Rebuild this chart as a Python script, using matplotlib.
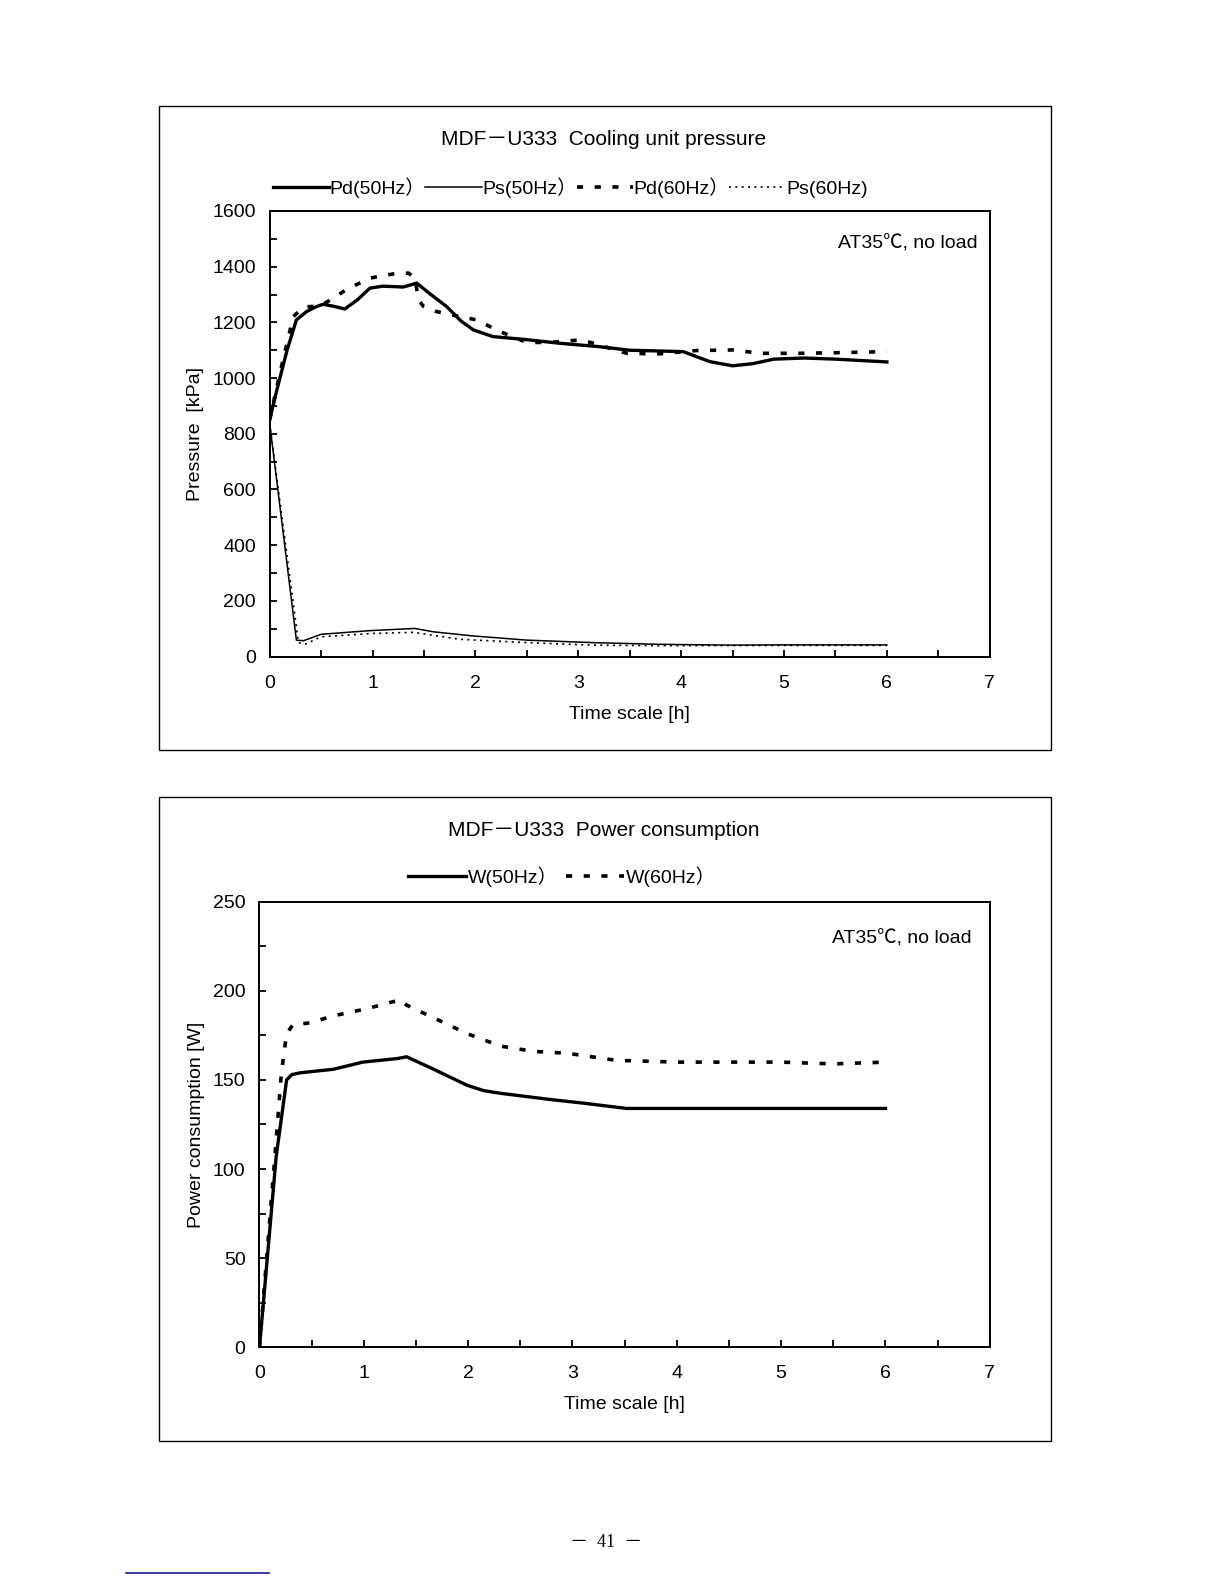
#!/usr/bin/env python3

"""Cooling unit pressure / power consumption page (MDF-U333)"""

import matplotlib
matplotlib.use('Agg')
import matplotlib.pyplot as plt
from matplotlib.patches import Rectangle
from matplotlib.ticker import MultipleLocator

plt.rcParams['font.family'] = ['Liberation Sans', 'Noto Sans CJK JP', 'DejaVu Sans']

# --- pressure chart data [h], [kPa]
pd50_t = [0, 0.07, 0.17, 0.26, 0.36, 0.45, 0.52, 0.62, 0.73, 0.85, 0.975, 1.1, 1.3, 1.43,
          1.55, 1.72, 1.86, 1.98, 2.17, 2.5, 2.82, 3.2, 3.5, 4.02, 4.28, 4.5, 4.7, 4.9, 5.2,
          5.5, 6.0]
pd50_p = [850, 957, 1101, 1209, 1239, 1256, 1265, 1258, 1248, 1280, 1323, 1330, 1327, 1341,
          1305, 1257, 1205, 1173, 1149, 1138, 1125, 1113, 1100, 1095, 1059, 1044, 1052, 1068,
          1072, 1068, 1058]

ps50_t = [0, 0.26, 0.33, 0.5, 0.97, 1.41, 1.59, 1.98, 2.5, 3.15, 3.79, 4.5, 5.0, 6.0]
ps50_p = [838, 59, 57, 80, 93, 101, 89, 74, 59, 50, 44, 41, 42, 42]

pd60_t = [0, 0.1, 0.23, 0.33, 0.49, 0.62, 0.75, 0.975, 1.2, 1.35, 1.41, 1.45, 1.49, 1.62,
          1.85, 2.01, 2.24, 2.5, 2.72, 3.02, 3.15, 3.47, 3.79, 4.15, 4.5, 4.77, 5.16, 5.5, 6.0]
pd60_p = [850, 1018, 1221, 1255, 1259, 1287, 1319, 1359, 1374, 1377, 1359, 1281, 1259, 1239,
          1221, 1209, 1167, 1128, 1128, 1137, 1125, 1089, 1087, 1099, 1101, 1089, 1089, 1091, 1095]

ps60_t = [0, 0.28, 0.35, 0.5, 1.0, 1.4, 1.85, 2.5, 3.15, 3.79, 5.0, 6.0]
ps60_p = [838, 50, 45, 71, 83, 87, 62, 50, 41, 39, 40, 40]

# --- power chart data [h], [W]
w50_t = [0, 0.16, 0.26, 0.31, 0.39, 0.71, 0.99, 1.32, 1.41, 1.67, 1.99, 2.15, 2.31, 2.79,
         3.1, 3.52, 3.75, 4.5, 5.0, 6.0]
w50_w = [0, 107, 150, 153, 154, 156, 160, 162, 163, 156, 147, 144, 142.5, 139,
         137, 134, 134, 134, 134, 134]

w60_t = [0, 0.15, 0.21, 0.26, 0.32, 0.48, 0.71, 1.03, 1.35, 1.41, 1.70, 1.99, 2.31, 2.63,
         2.95, 3.42, 4.0, 4.5, 5.0, 5.5, 6.0]
w60_w = [0, 109, 154, 176, 181, 182, 186, 190, 195, 192, 184, 176, 169, 166,
         165, 161, 160, 160, 160, 159, 160]

FS = 14
TFS = 15
DASH = (0, (1.7, 3.2))
DOT = (0, (1.2, 2.6))


def style_axes(ax, ymax, ymajor, yminor):
    """Box axes with inward ticks like the original Excel chart"""
    ax.set_xlim(0, 7)
    ax.set_ylim(0, ymax)
    ax.xaxis.set_major_locator(MultipleLocator(1))
    ax.xaxis.set_minor_locator(MultipleLocator(0.5))
    ax.yaxis.set_major_locator(MultipleLocator(ymajor))
    ax.yaxis.set_minor_locator(MultipleLocator(yminor))
    ax.tick_params(which='both', direction='in', length=5, width=1.3, labelsize=FS)
    ax.tick_params(axis='x', which='both', pad=13)
    ax.tick_params(axis='y', which='both', pad=10)
    for sp in ax.spines.values():
        sp.set_linewidth(1.4)
    ax.set_xlabel('Time scale [h]', fontsize=FS, labelpad=10)


fig = plt.figure(figsize=(12.24, 15.84), dpi=100)

# outer frames
for y0, h in [(0.5263, 0.4068), (0.0903, 0.4067)]:
    fig.patches.append(Rectangle((0.1295, y0), 0.7295, h, transform=fig.transFigure,
                                 fill=False, edgecolor='k', linewidth=1.0))

# pressure chart
ax1 = fig.add_axes([0.2203, 0.5855, 0.5883, 0.2813])
ax1.plot(pd50_t, pd50_p, color='k', lw=2.4, label='Pd(50Hz）')
ax1.plot(ps50_t, ps50_p, color='k', lw=1.1, label='Ps(50Hz）')
ax1.plot(pd60_t, pd60_p, color='k', lw=2.6, linestyle=DASH, label='Pd(60Hz）')
ax1.plot(ps60_t, ps60_p, color='k', lw=1.2, linestyle=DOT, label='Ps(60Hz)')
style_axes(ax1, 1600, 200, 100)
ax1.set_ylabel('Pressure  [kPa]', fontsize=FS, labelpad=6)
ax1.text(0.983, 0.945, 'AT35℃, no load', transform=ax1.transAxes, ha='right', va='top',
         fontsize=FS)
fig.text(0.4935, 0.912, 'MDF－U333  Cooling unit pressure', ha='center', va='center',
         fontsize=TFS)
h, l = ax1.get_legend_handles_labels()
fig.legend(h, l, loc='center', bbox_to_anchor=(0.466, 0.8814), ncol=4, frameon=False,
           fontsize=FS, handlelength=2.9, handletextpad=0.02, columnspacing=0.0)

# power chart
ax2 = fig.add_axes([0.2120, 0.1495, 0.5966, 0.2812])
ax2.plot(w50_t, w50_w, color='k', lw=2.4, label='W(50Hz）')
ax2.plot(w60_t, w60_w, color='k', lw=2.6, linestyle=DASH, label='W(60Hz）')
style_axes(ax2, 250, 50, 25)
ax2.set_ylabel('Power consumption [W]', fontsize=FS, labelpad=6)
ax2.text(0.975, 0.937, 'AT35℃, no load', transform=ax2.transAxes, ha='right', va='top',
         fontsize=FS)
fig.text(0.4935, 0.476, 'MDF－U333  Power consumption', ha='center', va='center',
         fontsize=TFS)
h, l = ax2.get_legend_handles_labels()
fig.legend(h, l, loc='center', bbox_to_anchor=(0.459, 0.4466), ncol=2, frameon=False,
           fontsize=FS, handlelength=3.0, handletextpad=0.1, columnspacing=0.4)

# page footer
fig.text(0.495, 0.0265, '－  41  －', ha='center', va='center', fontsize=13,
         family=['Liberation Serif', 'Noto Sans CJK JP'])
fig.add_artist(plt.Line2D([0.103, 0.2198], [0.0069, 0.0069], transform=fig.transFigure,
                          color='#1a1a8c', lw=1.2))

plt.savefig('out.png', dpi=100)
